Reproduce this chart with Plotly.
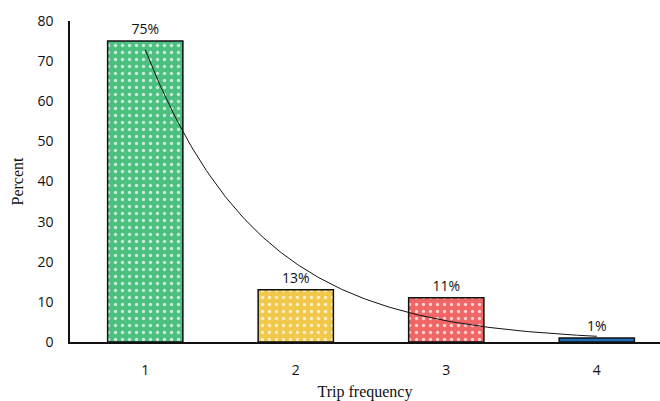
import numpy as np
import plotly.graph_objects as go

categories = [1, 2, 3, 4]
percent = [75, 13, 11, 1]
labels = ["75%", "13%", "11%", "1%"]
bar_colors = ["#4cc080", "#f2c84b", "#f06666", "#1f70b8"]
pattern_fg = ["#ffffff", "#ffffff", "#ffffff", "#1f70b8"]

# exponential trendline fitted to the data
coef = np.polyfit(categories, np.log(percent), 1)
xt = np.linspace(1, 4, 200)
yt = np.exp(np.polyval(coef, xt))

fig = go.Figure()
for c, p, lab, col, fg in zip(categories, percent, labels, bar_colors, pattern_fg):
    fig.add_trace(go.Bar(
        x=[c], y=[p], width=0.5,
        text=[lab], textposition="outside", cliponaxis=False,
        textfont=dict(family="Open Sans, Liberation Sans, sans-serif", size=14, color="#111"),
        marker=dict(color=col, line=dict(color="#111", width=1.5),
                    pattern=dict(shape=".", fgcolor=fg, bgcolor=col,
                                 fillmode="replace", size=7, solidity=0.18, fgopacity=0.7)),
        showlegend=False,
    ))
fig.add_trace(go.Scatter(x=xt, y=yt, mode="lines", line=dict(color="#111", width=1),
                         showlegend=False, hoverinfo="skip"))

fig.update_layout(
    width=660, height=401,
    margin=dict(l=70, r=0, t=21, b=59),
    paper_bgcolor="white", plot_bgcolor="white",
    font=dict(family="Open Sans, Liberation Sans, sans-serif", size=14, color="#111"),
    xaxis=dict(range=[0.5, 4.42], tickvals=categories, ticktext=[str(c) for c in categories],
               showline=True, linecolor="#111", linewidth=1.5, showgrid=False, ticks="",
               zeroline=False, automargin=False, ticklabelstandoff=14,
               title=dict(text="Trip frequency", font=dict(family="Liberation Serif, Times New Roman, serif", size=16), standoff=10)),
    yaxis=dict(range=[0, 80], dtick=10, showline=True, linecolor="#111", linewidth=1.5,
               showgrid=False, ticks="", zeroline=False, automargin=False, ticklabelstandoff=12,
               title=dict(text="Percent", font=dict(family="Liberation Serif, Times New Roman, serif", size=16), standoff=10)),
    barmode="overlay",
)
fig.write_html("out.html", config={"displayModeBar": False},
               post_script="document.body.style.margin='0';")
